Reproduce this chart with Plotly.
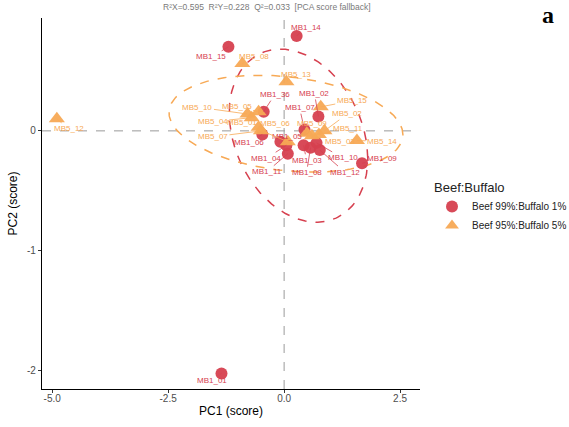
import numpy as np
import plotly.graph_objects as go

# PCA scores, group Beef 99%:Buffalo 1%
mb1_names = ["MB1_14", "MB1_15", "MB1_36", "MB1_02", "MB1_07", "MB1_06", "MB1_05", "MB1_04",
             "MB1_11", "MB1_03", "MB1_08", "MB1_12", "MB1_10", "MB1_09", "MB1_01"]
mb1_pc1 = [0.27, -1.20, -0.44, 0.74, 0.44, -0.47, -0.08, 0.05, 0.08, 0.42, 0.57, 0.77, 0.70, 1.68, -1.35]
mb1_pc2 = [0.79, 0.70, 0.16, 0.12, 0.01, -0.03, -0.09, -0.12, -0.19, -0.12, -0.14, -0.16, -0.10, -0.27, -2.02]

# PCA scores, group Beef 95%:Buffalo 5%
mb5_names = ["MB5_12", "MB5_08", "MB5_13", "MB5_10", "MB5_05", "MB5_04", "MB5_06", "MB5_07",
             "MB5_01", "MB5_09", "MB5_15", "MB5_02", "MB5_11", "MB5_03", "MB5_14"]
mb5_pc1 = [-4.90, -0.90, 0.05, -0.79, -0.55, -0.70, -0.55, -0.50, 0.08, 0.49, 0.79, 0.87, 0.60, 0.75, 1.57]
mb5_pc2 = [0.10, 0.56, 0.41, 0.14, 0.16, 0.11, 0.03, 0.00, -0.09, -0.02, 0.20, 0.00, -0.04, -0.03, -0.08]

# label offsets (pixels) for the repelled sample labels
mb1_dx = [9, -17, 11, -4, -5, -13, 7, -20, -21, 3, -4, 25, 26, 20, -9]
mb1_dy = [-9, 10, -17, -23, -22, 8, -5, 13, 18, 15, 25, 22, 15, -5, 7]
mb5_dx = [12, 12, 10, -50, -22, -39, 16, -48, -46, 5, 31, 23, 36, 21, 25]
mb5_dy = [10, -7, -7, -7, -5, 4, -4, 6, -19, -10, -6, -17, -7, 7, 1]

# 95% confidence ellipses: centre and covariance (var PC1, var PC2, cov)
ell_mb1 = dict(cx=0.31, cy=-0.04, sxx=2.231, syy=0.520, sxy=-0.280)
ell_mb5 = dict(cx=0.04, cy=0.06, sxx=6.36, syy=0.163, sxy=-0.234)

group_labels = ["Beef 99%:Buffalo 1%", "Beef 95%:Buffalo 5%"]
RED = "#D6404F"
ORANGE = "#F7A955"

title_text = "R²X=0.595  R²Y=0.228  Q²=0.033  [PCA score fallback]"


def ellipse_xy(e, n=240):
    t = np.linspace(0, 2 * np.pi, n)
    cov = np.array([[e["sxx"], e["sxy"]], [e["sxy"], e["syy"]]])
    L = np.linalg.cholesky(cov)
    pts = L @ np.vstack([np.cos(t), np.sin(t)])
    return e["cx"] + pts[0], e["cy"] + pts[1]


fig = go.Figure()

for e, col in [(ell_mb1, RED), (ell_mb5, ORANGE)]:
    ex, ey = ellipse_xy(e)
    fig.add_trace(go.Scatter(x=ex, y=ey, mode="lines", showlegend=False, hoverinfo="skip",
                             line=dict(color=col, width=1.5, dash="dash")))

fig.add_trace(go.Scatter(x=mb1_pc1, y=mb1_pc2, mode="markers", name=group_labels[0],
                         marker=dict(symbol="circle", size=12, color=RED, opacity=0.95)))
fig.add_trace(go.Scatter(x=mb5_pc1, y=mb5_pc2, mode="markers", name=group_labels[1],
                         marker=dict(symbol="triangle-up", size=14, color=ORANGE, opacity=0.95)))

annotations = []
for names, xs, ys, dxs, dys, col in [(mb1_names, mb1_pc1, mb1_pc2, mb1_dx, mb1_dy, RED),
                                     (mb5_names, mb5_pc1, mb5_pc2, mb5_dx, mb5_dy, ORANGE)]:
    for nm, x, y, dx, dy in zip(names, xs, ys, dxs, dys):
        annotations.append(dict(x=x, y=y, xref="x", yref="y", text=nm, showarrow=True,
                                ax=dx, ay=dy, arrowhead=0, arrowwidth=0.8, arrowcolor=col,
                                standoff=0, startstandoff=0,
                                font=dict(size=8, color=col, family="Liberation Sans")))

annotations.append(dict(text=title_text, xref="paper", yref="paper",
                        x=0.595, y=1.0296,
                        xanchor="center", yanchor="middle", showarrow=False,
                        font=dict(size=8.5, color="#7a7a7a", family="Liberation Sans")))
annotations.append(dict(text="<b>a</b>", xref="paper", yref="paper",
                        x=1.3386, y=1.008,
                        xanchor="center", yanchor="middle", showarrow=False,
                        font=dict(size=24, color="black", family="Liberation Serif")))

fig.update_layout(
    width=569, height=427,
    margin=dict(l=42, r=149, t=18, b=38, autoexpand=False),
    paper_bgcolor="white", plot_bgcolor="white",
    font=dict(family="Liberation Sans", color="black"),
    annotations=annotations,
    shapes=[
        dict(type="line", xref="x", yref="paper", x0=0, x1=0, y0=0, y1=1,
             line=dict(color="#9a9a9a", width=1, dash="dash"), layer="below"),
        dict(type="line", xref="paper", yref="y", x0=0, x1=1, y0=0, y1=0,
             line=dict(color="#9a9a9a", width=1, dash="dash"), layer="below"),
    ],
    legend=dict(title=dict(text="Beef:Buffalo", font=dict(size=13)),
                xref="container", yref="container",
                x=432 / 569, y=1 - 175 / 427, xanchor="left", yanchor="top",
                font=dict(size=10, color="#222222"), itemsizing="constant",
                tracegroupgap=0),
    xaxis=dict(range=[-5.22, 2.93], showgrid=False, zeroline=False,
               showline=True, linecolor="black", linewidth=1.2,
               ticks="outside", ticklen=3, tickcolor="#333333",
               tickvals=[-5, -2.5, 0, 2.5], ticktext=["-5.0", "-2.5", "0.0", "2.5"],
               tickfont=dict(size=10, color="#4d4d4d"), ticklabelstandoff=-3,
               title=dict(text="PC1 (score)", font=dict(size=12), standoff=3)),
    yaxis=dict(range=[-2.15, 0.94], showgrid=False, zeroline=False,
               showline=True, linecolor="black", linewidth=1.2,
               ticks="outside", ticklen=3, tickcolor="#333333",
               tickvals=[-2, -1, 0], ticktext=["-2", "-1", "0"],
               tickfont=dict(size=10, color="#4d4d4d"),
               title=dict(text="PC2 (score)", font=dict(size=12), standoff=6)),
)

fig.write_html("out.html")
